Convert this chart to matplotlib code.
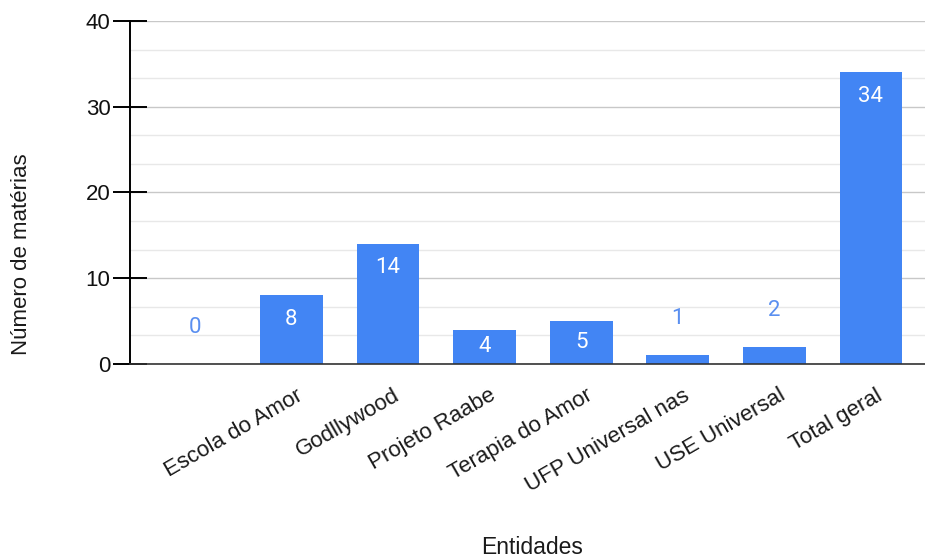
import matplotlib.pyplot as plt
import matplotlib.transforms as mtransforms
from matplotlib.ticker import MultipleLocator

plt.rcParams['font.family'] = ['Liberation Sans', 'DejaVu Sans']

categorias = ["", "Escola do Amor", "Godllywood", "Projeto Raabe", "Terapia do Amor",
              "UFP Universal nas", "USE Universal", "Total geral"]
materias = [0, 8, 14, 4, 5, 1, 2, 34]

blue = "#4285F4"
fig = plt.figure(figsize=(9.25, 5.58), dpi=100)
ax = fig.add_axes([130 / 925, 1 - 364 / 558, 795 / 925, 343 / 558])

x = range(len(categorias))
ax.bar(x, materias, width=0.65, color=blue, zorder=3)

ax.set_xlim(-0.67, len(categorias) - 0.44)
ax.set_ylim(0, 40)
ax.yaxis.set_major_locator(MultipleLocator(10))
ax.yaxis.set_minor_locator(MultipleLocator(10 / 3))
ax.grid(axis='y', which='major', color='#c8c8c8', lw=1, zorder=0)
ax.grid(axis='y', which='minor', color='#e8e8e8', lw=1, zorder=0)
ax.tick_params(axis='y', which='major', direction='inout', length=24, width=1.4,
               labelsize=16, pad=2, labelcolor='#111111')
ax.tick_params(axis='y', which='minor', length=0)
ax.tick_params(axis='x', length=0)

for s in ['top', 'right']:
    ax.spines[s].set_visible(False)
ax.spines['left'].set_linewidth(1.4)
ax.spines['left'].set_zorder(4)
ax.spines['bottom'].set_color('#333333')
ax.spines['bottom'].set_linewidth(1.2)
ax.spines['bottom'].set_zorder(4)

# rotated category labels
ax.set_xticks(list(x))
ax.set_xticklabels([])
off = mtransforms.ScaledTranslation(10 / 100, -30 / 100, fig.dpi_scale_trans)
for i, lab in enumerate(categorias):
    ax.text(i, 0, lab, rotation=30, rotation_mode='anchor', ha='right', va='center',
            fontsize=16, color='#1a1a1a',
            transform=mtransforms.blended_transform_factory(ax.transData, ax.transAxes) + off)

# value labels
px_per_unit = 343 / 40
for i, v in enumerate(materias):
    if v >= 4:
        dy = min(24, v * px_per_unit / 2) * 0.72
        ax.annotate(str(v), (i, v), xytext=(0, -dy), textcoords='offset points',
                    ha='center', va='center', color='white', fontsize=16, zorder=5,
                    family=['Roboto', 'DejaVu Sans'])
    else:
        ax.annotate(str(v), (i, v), xytext=(0, 26.5), textcoords='offset points',
                    ha='center', va='center', color='#5a8ff0', fontsize=16, zorder=5,
                    family=['Roboto', 'DejaVu Sans'])

fig.text(22 / 925, 1 - 254 / 558, "Número de matérias", rotation=90, ha='center',
         va='center', fontsize=16, color='#1a1a1a')
fig.text(532 / 925, 1 - 547 / 558, "Entidades", ha='center', va='center',
         fontsize=16.5, color='#1a1a1a')

fig.savefig("out.png", dpi=100)
